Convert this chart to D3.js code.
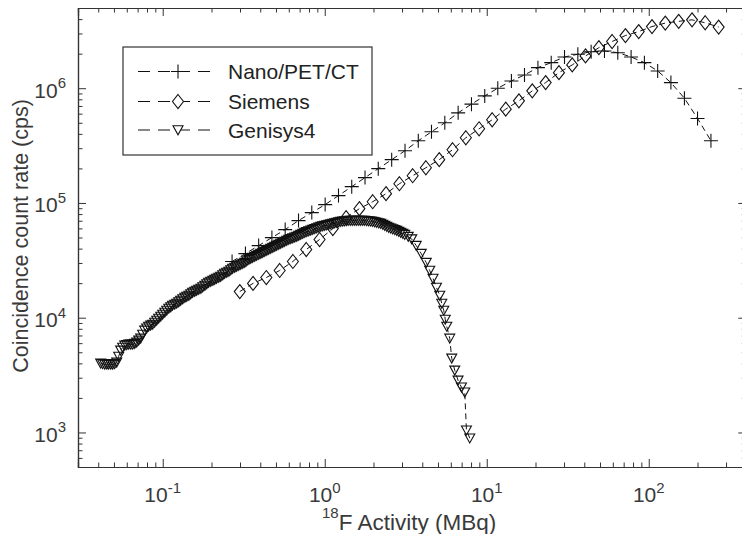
<!DOCTYPE html>
<html><head><meta charset="utf-8">
<script src="https://cdn.jsdelivr.net/npm/d3@7"></script>
<style>
html,body{margin:0;padding:0;background:#fff;}
svg text{font-family:"Liberation Sans",Arial,sans-serif;}
</style></head>
<body>
<svg id="chart" width="742" height="534"></svg>
<script>
// ---------------- data ----------------
const seriesNames = ["Nano/PET/CT", "Siemens", "Genisys4"];

const nanoX = [0.268,0.324,0.391,0.472,0.570,0.689,0.832,1.006,1.216,1.468,1.773,2.14,2.59,3.13,3.78,4.56,5.51,6.66,8.05,9.72,11.7,14.2,17.1,20.7,25.0,30.2,36.5,44.1,53.3,64.4,77.8,94.0,113.5,137,166,200,242];
const nanoY = [30900,36200,42500,49900,58600,70200,82400,96800,115900,138700,166300,199100,238400,285400,348500,417200,499400,610000,726000,857000,1000000,1157000,1305000,1511000,1670000,1872000,1976000,2080000,2110000,2040000,1872000,1670000,1414000,1119000,818000,545000,348500];

const siemensX = [0.299,0.361,0.436,0.527,0.636,0.769,0.929,1.122,1.355,1.637,1.977,2.39,2.89,3.49,4.21,5.09,6.15,7.43,8.97,10.8,13.1,15.8,19.1,23.1,27.9,33.7,40.7,49.2,59.4,71.8,86.7,104.7,126.5,153,185,223,270];
const siemensY = [16900,19900,22400,25800,30900,39300,48000,59800,74500,89200,102500,120400,147100,172700,202700,238300,291000,370000,443000,531000,657000,776000,948000,1119000,1367000,1596000,1910000,2255000,2553000,2877000,3117000,3445000,3696000,3826000,3942000,3718000,3412000];

const genisysX = [
0.0414,0.0426,0.0439,0.0452,0.0464,0.0478,0.0491,0.0505,0.0520,0.0535,
0.0550,0.0566,0.0583,0.0600,0.0617,0.0635,0.0653,0.0672,0.0691,0.0711,
0.0731,0.0752,0.0774,0.0796,0.0819,0.0843,0.0867,0.0892,0.0918,0.0944,
0.0972,0.1000,0.103,0.1059,0.109,0.1121,0.115,0.1186,0.122,0.1255,
0.129,0.1329,0.137,0.1407,0.145,0.1489,0.153,0.1576,0.162,0.1668,
0.172,0.1766,0.182,0.1869,0.192,0.1979,0.204,0.2094,0.215,0.2217,
0.228,0.2347,0.241,0.2484,0.256,0.2629,0.270,0.2783,0.286,0.2946,
0.303,0.3118,0.321,0.3301,0.340,0.3494,0.359,0.3698,0.380,0.3915,
0.403,0.4144,0.426,0.4386,0.451,0.4643,0.478,0.4915,0.505,0.5203,
0.535,0.5507,0.566,0.5829,0.600,0.6171,0.635,0.6532,0.672,0.6914,
0.711,0.7318,0.753,0.7746,0.797,0.8200,0.843,0.8679,0.893,0.9187,
0.945,0.9725,1.000,1.0294,1.059,1.0897,1.120,1.1534,1.186,1.2210,
1.255,1.2924,1.329,1.3680,1.407,1.4481,1.489,1.5329,1.576,1.6226,
1.668,1.7176,1.766,1.8181,1.869,1.9245,1.979,2.0372,2.094,2.1565,
2.217,2.2827,2.347,2.4163,2.484,2.5578,2.629,2.7075,2.783,2.8660,
2.946,3.0338,3.118,3.277,
3.443,3.671,3.942,4.232,4.447,4.661,4.892,5.128,5.276,5.428,
5.545,5.664,5.911,6.081,6.346,6.650,6.981,7.316,7.494,7.855];
const genisysY = [
4006,3960,3927,3927,3927,3927,3927,3960,4087,4600,
5197,5500,5743,5800,5859,5859,5859,5950,6098,6350,
6607,7150,7757,8100,8403,8580,8746,9100,9474,9860,
10264,10680,11120,11580,12047,12400,12794,13050,13316,13720,
14140,14570,15016,15320,15630,16100,16596,16930,17275,17620,
17982,18530,19093,19680,20277,20690,21101,21530,21963,22400,
22860,23560,24276,24770,25269,26040,26834,27380,27931,28500,
29072,29660,30261,31180,32136,32780,33441,34120,34807,35510,
36230,36960,37711,38480,39253,40050,40858,41680,42527,43390,
44266,45160,46074,47010,47958,48680,49415,50170,50929,51960,
53003,54070,55168,56000,56855,57710,58584,59470,60377,61290,
62218,62840,63476,64110,64760,65410,66069,66730,67406,68080,
68769,69110,69454,69800,70162,70162,70162,70162,70162,70162,
70162,70162,70162,69800,69454,69110,68769,68080,67406,66730,
66069,64760,63476,62200,60980,60080,59180,58300,57430,56290,
55168,54070,53003,50929,
48440,42527,36230,30261,25780,21963,18345,15630,13316,11574,
9665,8403,6607,4428,3481,2849,2476,2240,1047,892];

const xDomain = [0.03, 400];
const yDomain = [500, 5e6];
const xMajorTicks = [0.1, 1, 10, 100];
const xMajorExp = ["-1", "0", "1", "2"];
const yMajorTicks = [1e3, 1e4, 1e5, 1e6];
const yMajorExp = ["3", "4", "5", "6"];
const yLabel = "Coincidence count rate (cps)";
const xLabelSup = "18";
const xLabelMain = "F Activity (MBq)";

// ---------------- layout ----------------
const svg = d3.select("#chart");
const L = 78, T = 8, R = 746.3, B = 467;
const x = d3.scaleLog().domain(xDomain).range([L, R]);
const y = d3.scaleLog().domain(yDomain).range([B, T]);
const axisColor = "#333";
const ink = "#111";
const labelColor = "#3a3a3a";

function minorTicks(scale) {
  const [a, b] = scale.domain();
  const out = [];
  for (let e = Math.floor(Math.log10(a)); e <= Math.ceil(Math.log10(b)); e++) {
    for (let m = 2; m <= 9; m++) {
      const v = m * Math.pow(10, e);
      if (v >= a && v <= b) out.push(v);
    }
  }
  return out;
}

// axes with inward ticks
function drawAxis(gen, transform, ticks, size) {
  const g = svg.append("g").attr("transform", transform)
    .call(gen.tickValues(ticks).tickSize(-size).tickFormat(""));
  g.selectAll("path").attr("stroke", axisColor).attr("stroke-width", 1.2);
  g.selectAll("line").attr("stroke", axisColor).attr("stroke-width", 1);
  return g;
}
const xMin = minorTicks(x), yMin = minorTicks(y);
drawAxis(d3.axisBottom(x), `translate(0,${B})`, xMin, 4.5);
drawAxis(d3.axisBottom(x), `translate(0,${B})`, xMajorTicks, 8);
drawAxis(d3.axisTop(x), `translate(0,${T})`, xMin, 4.5);
drawAxis(d3.axisTop(x), `translate(0,${T})`, xMajorTicks, 8);
drawAxis(d3.axisLeft(y), `translate(${L},0)`, yMin, 4.5);
drawAxis(d3.axisLeft(y), `translate(${L},0)`, yMajorTicks, 8);
drawAxis(d3.axisRight(y), `translate(${R},0)`, yMin, 4.5);
drawAxis(d3.axisRight(y), `translate(${R},0)`, yMajorTicks, 8);

// tick labels with superscripts
xMajorTicks.forEach((v, i) => {
  const t = svg.append("text").attr("x", x(v)).attr("y", B + 35)
    .attr("text-anchor", "middle").attr("fill", labelColor).attr("font-size", 21);
  t.append("tspan").text("10");
  t.append("tspan").attr("font-size", 15).attr("dy", -9.5).text(xMajorExp[i]);
});
yMajorTicks.forEach((v, i) => {
  const t = svg.append("text").attr("x", L - 12).attr("y", y(v) + 9.5)
    .attr("text-anchor", "end").attr("fill", labelColor).attr("font-size", 21);
  t.append("tspan").text("10");
  t.append("tspan").attr("font-size", 15).attr("dy", -9.5).text(yMajorExp[i]);
});

// axis titles
svg.append("text").attr("transform", `translate(28,${(T + B) / 2 - 1.5}) rotate(-90)`)
  .attr("text-anchor", "middle").attr("fill", labelColor).attr("font-size", 21.5).text(yLabel);
const xt = svg.append("text").attr("x", 322).attr("y", 530).attr("fill", labelColor).attr("font-size", 22.5);
xt.append("tspan").attr("font-size", 15).attr("dy", -12).text(xLabelSup);
xt.append("tspan").attr("dy", 12).text(xLabelMain);

// markers
const markerPaths = {
  plus: "M-7,0H7M0,-7V7",
  diamond: "M0,-7L5.5,0L0,7L-5.5,0Z",
  tri: "M-5,-4.2L5,-4.2L0,4.8Z"
};
const series = [
  {name: seriesNames[0], xs: nanoX, ys: nanoY, marker: "plus"},
  {name: seriesNames[1], xs: siemensX, ys: siemensY, marker: "diamond"},
  {name: seriesNames[2], xs: genisysX, ys: genisysY, marker: "tri"}
];
svg.append("clipPath").attr("id", "clip").append("rect")
  .attr("x", L).attr("y", T).attr("width", R - L).attr("height", B - T);
const plot = svg.append("g").attr("clip-path", "url(#clip)");
const line = d3.line().x(d => x(d[0])).y(d => y(d[1]));
series.forEach(s => {
  const pts = s.xs.map((v, i) => [v, s.ys[i]]);
  plot.append("path").attr("d", line(pts)).attr("fill", "none")
    .attr("stroke", ink).attr("stroke-width", 1).attr("stroke-dasharray", "6,4");
  plot.selectAll(null).data(pts).enter().append("path")
    .attr("transform", d => `translate(${x(d[0])},${y(d[1])})`)
    .attr("d", markerPaths[s.marker]).attr("fill", "none")
    .attr("stroke", ink).attr("stroke-width", 1.1);
});

// legend
const lg = svg.append("g");
lg.append("rect").attr("x", 123).attr("y", 47).attr("width", 249).attr("height", 108)
  .attr("fill", "#fff").attr("stroke", axisColor).attr("stroke-width", 1.2);
const rowsY = [71.5, 101.5, 130];
series.forEach((s, i) => {
  lg.append("line").attr("x1", 138).attr("x2", 214).attr("y1", rowsY[i]).attr("y2", rowsY[i])
    .attr("stroke", ink).attr("stroke-width", 1).attr("stroke-dasharray", "12,8");
  lg.append("path").attr("transform", `translate(178,${rowsY[i]})`)
    .attr("d", markerPaths[s.marker]).attr("fill", "#fff").attr("stroke", ink).attr("stroke-width", 1.1);
  lg.append("text").attr("x", 228).attr("y", rowsY[i] + 7.5).attr("fill", "#222")
    .attr("font-size", 21).text(s.name);
});
</script>
</body></html>
